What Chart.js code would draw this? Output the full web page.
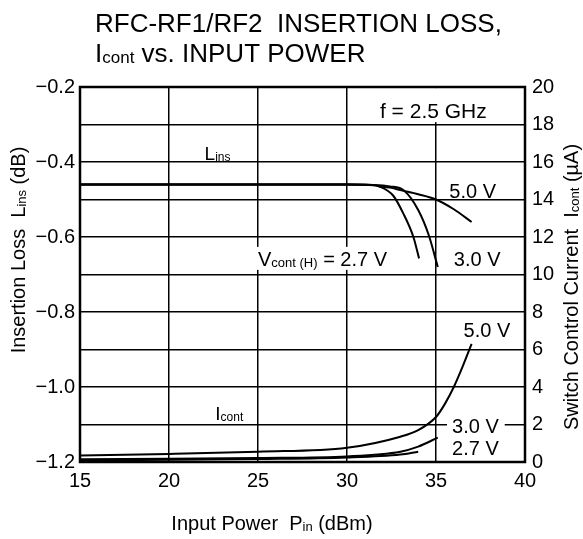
<!DOCTYPE html>
<html>
<head>
<meta charset="utf-8">
<script src="https://cdn.jsdelivr.net/npm/chart.js@4.4.0/dist/chart.umd.min.js"></script>
<style>
body { margin: 0; background: #fff; }
</style>
</head>
<body>
<canvas id="chart" width="583" height="539"></canvas>
<script>
// insertion loss (dB) vs input power (dBm), one curve per Vcont(H)
var lins50X = [15, 20, 25, 30, 31.5, 32, 32.5, 33, 34, 35, 36, 37];
var lins50Y = [-0.46, -0.46, -0.46, -0.46, -0.462, -0.466, -0.469, -0.475, -0.486, -0.5, -0.526, -0.56];
var lins30X = [15, 20, 25, 30, 31.5, 32.4, 33.2, 34.0, 34.6, 35.1];
var lins30Y = [-0.46, -0.46, -0.46, -0.46, -0.461, -0.465, -0.476, -0.528, -0.596, -0.68];
var lins27X = [15, 20, 25, 30, 31.3, 31.85, 32.6, 33.16, 33.73, 34.05];
var lins27Y = [-0.46, -0.46, -0.46, -0.46, -0.461, -0.466, -0.49, -0.537, -0.6, -0.657];

// control current (uA) vs input power (dBm)
var icont50X = [15, 20, 25, 30, 33, 34, 35, 35.5, 36, 36.5, 37];
var icont50Y = [0.35, 0.43, 0.55, 0.76, 1.35, 1.7, 2.4, 3.1, 4.0, 5.1, 6.3];
var icont30X = [15, 20, 25, 30, 33, 34, 35.1];
var icont30Y = [0.14, 0.18, 0.22, 0.3, 0.55, 0.82, 1.3];
var icont27X = [15, 20, 25, 30, 33, 34];
var icont27Y = [0.08, 0.12, 0.16, 0.24, 0.4, 0.55];

var powerRange = [15, 40];
var lossRange = [-1.2, -0.2];
var currentRange = [0, 20];

var FONT = '"Liberation Sans", Arial, Helvetica, sans-serif';

function toPoints(xs, ys){
    var pts = [];
    for (var i = 0; i < xs.length; i++) {
        pts.push({x: xs[i], y: ys[i]});
    }
    return pts;
}

// draws text made of normal + subscript pieces, returns width
function drawRich(ctx, parts, x, y, size, align){
    var subSize = Math.round(size * 0.64);
    var w = 0;
    parts.forEach(function(p){
        ctx.font = (p.sub ? subSize : size) + 'px ' + FONT;
        w += ctx.measureText(p.t).width;
    });
    var cx = align === 'center' ? x - w / 2 : x;
    ctx.textAlign = 'left';
    ctx.textBaseline = 'alphabetic';
    parts.forEach(function(p){
        ctx.font = (p.sub ? subSize : size) + 'px ' + FONT;
        ctx.fillText(p.t, cx, y + (p.sub ? 1 : 0));
        cx += ctx.measureText(p.t).width;
    });
    return w;
}

function richWidth(ctx, parts, size){
    var subSize = Math.round(size * 0.64);
    var w = 0;
    parts.forEach(function(p){
        ctx.font = (p.sub ? subSize : size) + 'px ' + FONT;
        w += ctx.measureText(p.t).width;
    });
    return w;
}

// notes inside the plot, anchored in data units (x dBm, y dB); pad = [l, t, r, b]
var notes = [
    {parts: [{t: 'f = 2.5 GHz'}], x: 31.85, y: -0.283, size: 21, pad: [8, 30, 8, 4]},
    {parts: [{t: 'L'}, {t: 'ins', sub: true}], x: 22.0, y: -0.395, size: 19},
    {parts: [{t: '5.0 V'}], x: 35.75, y: -0.496, size: 20},
    {parts: [{t: 'V'}, {t: 'cont (H)', sub: true}, {t: ' = 2.7 V'}], x: 25.0, y: -0.677, size: 20, pad: [3, 19, 3, 4]},
    {parts: [{t: '3.0 V'}], x: 36.0, y: -0.677, size: 20},
    {parts: [{t: '5.0 V'}], x: 36.55, y: -0.867, size: 20},
    {parts: [{t: 'I'}, {t: 'cont', sub: true}], x: 22.6, y: -1.088, size: 19},
    {parts: [{t: '3.0 V'}], x: 35.9, y: -1.123, size: 20, pad: [5, 18, 6, 4]},
    {parts: [{t: '2.7 V'}], x: 35.9, y: -1.181, size: 20}
];

var decorPlugin = {
    id: 'decor',
    afterDraw: function(chart){
        var ctx = chart.ctx;
        var area = chart.chartArea;
        var xs = chart.scales.x;
        var yl = chart.scales.yLoss;
        ctx.save();
        ctx.fillStyle = '#000';

        // plot notes with white boxes where they cut grid lines
        notes.forEach(function(n){
            var px = xs.getPixelForValue(n.x);
            var py = yl.getPixelForValue(n.y);
            if (n.pad) {
                var w = richWidth(ctx, n.parts, n.size);
                ctx.fillStyle = '#fff';
                ctx.fillRect(px - n.pad[0], py - n.pad[1], w + n.pad[0] + n.pad[2], n.pad[1] + n.pad[3]);
                ctx.fillStyle = '#000';
            }
            drawRich(ctx, n.parts, px, py, n.size, 'left');
        });

        // frame
        ctx.strokeStyle = '#000';
        ctx.lineWidth = 2.5;
        ctx.strokeRect(area.left, area.top, area.right - area.left, area.bottom - area.top);

        // title
        drawRich(ctx, [{t: 'RFC-RF1/RF2  INSERTION LOSS,'}], 95, 32, 26, 'left');
        drawRich(ctx, [{t: 'I'}, {t: 'cont', sub: true}, {t: ' vs. INPUT POWER'}], 95, 62, 26, 'left');

        // axis titles
        drawRich(ctx, [{t: 'Input Power  P'}, {t: 'in', sub: true}, {t: ' (dBm)'}], 272, 530, 20, 'center');

        ctx.save();
        ctx.translate(25, 250);
        ctx.rotate(-Math.PI / 2);
        drawRich(ctx, [{t: 'Insertion Loss  L'}, {t: 'ins', sub: true}, {t: ' (dB)'}], 0, 0, 20, 'center');
        ctx.restore();

        ctx.save();
        ctx.translate(578, 287);
        ctx.rotate(-Math.PI / 2);
        drawRich(ctx, [{t: 'Switch Control Current  I'}, {t: 'cont', sub: true}, {t: ' (\u00b5A)'}], 0, 0, 20, 'center');
        ctx.restore();

        ctx.restore();
    }
};

var insertionGraph = function(){
    var chartCanvas;
    var chartData;
    var chartOptions;
    return {
        init: function(c){
            chartCanvas = document.getElementById(c).getContext('2d');
            this.bindData();
            this.setOptions();
            this.drawGraph();
        },
        line: function(label, xs, ys, axis){
            return {
                label: label,
                data: toPoints(xs, ys),
                yAxisID: axis,
                borderColor: '#000',
                borderWidth: 2,
                pointRadius: 0,
                fill: false,
                cubicInterpolationMode: 'monotone'
            };
        },
        bindData: function(){
            chartData = {
                datasets: [
                    this.line('Lins 5.0 V', lins50X, lins50Y, 'yLoss'),
                    this.line('Lins 3.0 V', lins30X, lins30Y, 'yLoss'),
                    this.line('Lins 2.7 V', lins27X, lins27Y, 'yLoss'),
                    this.line('Icont 5.0 V', icont50X, icont50Y, 'yCur'),
                    this.line('Icont 3.0 V', icont30X, icont30Y, 'yCur'),
                    this.line('Icont 2.7 V', icont27X, icont27Y, 'yCur')
                ]
            };
        },
        setOptions: function(){
            var tickFont = {family: FONT, size: 20};
            chartOptions = {
                responsive: false,
                animation: false,
                layout: {padding: {top: 87, left: 0, right: 0, bottom: 0}},
                plugins: {legend: {display: false}, tooltip: {enabled: false}, title: {display: false}},
                scales: {
                    x: {
                        type: 'linear',
                        min: powerRange[0],
                        max: powerRange[1],
                        afterFit: function(s){ s.height = 77; },
                        ticks: {stepSize: 5, font: tickFont, color: '#000', padding: 7, maxRotation: 0},
                        grid: {color: '#000', lineWidth: 1.5, drawTicks: false},
                        border: {display: false}
                    },
                    yLoss: {
                        type: 'linear',
                        position: 'left',
                        min: lossRange[0],
                        max: lossRange[1],
                        afterFit: function(s){ s.width = 80; },
                        ticks: {
                            stepSize: 0.2,
                            font: tickFont,
                            color: '#000',
                            padding: 5,
                            callback: function(v){ return (Math.round(v * 10) / 10).toFixed(1).replace('-', '\u2212'); }
                        },
                        grid: {display: false, drawTicks: false},
                        border: {display: false}
                    },
                    yCur: {
                        type: 'linear',
                        position: 'right',
                        min: currentRange[0],
                        max: currentRange[1],
                        afterFit: function(s){ s.width = 58; },
                        ticks: {stepSize: 2, font: tickFont, color: '#000', padding: 7},
                        grid: {color: '#000', lineWidth: 1.5, drawTicks: false},
                        border: {display: false}
                    }
                }
            };
        },
        drawGraph: function(){
            new Chart(chartCanvas, {
                type: 'line',
                data: chartData,
                options: chartOptions,
                plugins: [decorPlugin]
            });
        }
    };
};

insertionGraph().init('chart');
</script>
</body>
</html>
